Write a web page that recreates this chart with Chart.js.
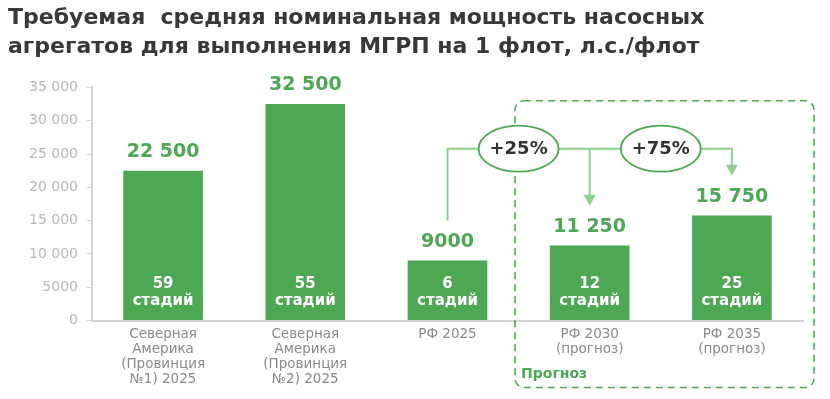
<!DOCTYPE html>
<html lang="ru">
<head>
<meta charset="utf-8">
<script src="https://cdn.jsdelivr.net/npm/chart.js@4.4.1/dist/chart.umd.min.js"></script>
<style>
  html, body { margin: 0; padding: 0; background: #fff; }
  #wrap { width: 830px; height: 399px; }
</style>
</head>
<body>
<div id="wrap"><canvas id="grafico"></canvas></div>
<script>
const categorias = [
  ['Северная', 'Америка', '(Провинция', '№1) 2025'],
  ['Северная', 'Америка', '(Провинция', '№2) 2025'],
  'РФ 2025',
  ['РФ 2030', '(прогноз)'],
  ['РФ 2035', '(прогноз)']
];
const mощности = [22500, 32500, 9000, 11250, 15750];
const стадии = [59, 55, 6, 12, 25];
const приросты = ['+25%', '+75%'];
const шкалаY = [0, 5000, 10000, 15000, 20000, 25000, 30000, 35000];

const titulo = ['Требуемая  средняя номинальная мощность насосных', 'агрегатов для выполнения МГРП на 1 флот, л.с./флот'];
const fonte = "'DejaVu Sans', 'Noto Sans', sans-serif";
const verde = '#4ca852';
const verdeClaro = '#8fd18f';

function formatar(v) {
  return v >= 10000 ? String(v).replace(/\B(?=(\d{3})+(?!\d))/g, ' ') : String(v);
}

// рисуем подписи, стрелки и рамку прогноза
const anotacoes = {
  id: 'anotacoes',
  afterDatasetsDraw(chart) {
    const ctx = chart.ctx;
    const xs = chart.scales.x;
    const ys = chart.scales.y;
    const area = chart.chartArea;
    const barras = chart.getDatasetMeta(0).data;
    const passo = xs.getPixelForValue(1) - xs.getPixelForValue(0);

    ctx.save();
    // значения над столбцами и стадии внутри
    barras.forEach((b, i) => {
      ctx.textAlign = 'center';
      ctx.textBaseline = 'middle';
      ctx.fillStyle = verde;
      ctx.font = 'bold 19px ' + fonte;
      ctx.fillText(formatar(mощности[i]), b.x, b.y - 19);
      ctx.fillStyle = '#fff';
      ctx.font = 'bold 15px ' + fonte;
      ctx.fillText(String(стадии[i]), b.x, area.bottom - 36);
      ctx.fillText('стадий', b.x, area.bottom - 19);
    });

    // рамка "Прогноз"
    const rx0 = xs.getPixelForValue(2) + passo * 0.475;
    const ry0 = ys.getPixelForValue(33000);
    const rx1 = area.right + 11;
    const ry1 = area.bottom + 67;
    ctx.strokeStyle = verde;
    ctx.lineWidth = 1.6;
    ctx.setLineDash([7, 5]);
    ctx.beginPath();
    ctx.roundRect(rx0, ry0, rx1 - rx0, ry1 - ry0, 9);
    ctx.stroke();
    ctx.setLineDash([]);
    ctx.fillStyle = verde;
    ctx.font = 'bold 14px ' + fonte;
    ctx.textAlign = 'left';
    ctx.fillText('Прогноз', rx0 + 6, ry1 - 13);

    // соединительные линии
    const yLinha = ys.getPixelForValue(25800);
    const x2 = barras[2].x, x3 = barras[3].x, x4 = barras[4].x;
    ctx.strokeStyle = verdeClaro;
    ctx.lineWidth = 2;
    ctx.beginPath();
    ctx.moveTo(x2, ys.getPixelForValue(mощности[2] + 6000));
    ctx.lineTo(x2, yLinha);
    ctx.lineTo(x4, yLinha);
    ctx.lineTo(x4, ys.getPixelForValue(mощности[4] + 6000) - 10);
    ctx.moveTo(x3, yLinha);
    ctx.lineTo(x3, ys.getPixelForValue(mощности[3] + 6000) - 10);
    ctx.stroke();
    ctx.fillStyle = verdeClaro;
    [[x3, mощности[3]], [x4, mощности[4]]].forEach(([x, v]) => {
      const tip = ys.getPixelForValue(v + 6000);
      ctx.beginPath();
      ctx.moveTo(x - 6, tip - 11);
      ctx.lineTo(x + 6, tip - 11);
      ctx.lineTo(x, tip);
      ctx.closePath();
      ctx.fill();
    });

    // эллипсы с приростом
    [[(x2 + x3) / 2, приросты[0]], [(x3 + x4) / 2, приросты[1]]].forEach(([cx, txt]) => {
      ctx.beginPath();
      ctx.ellipse(cx, yLinha, 40, 23, 0, 0, Math.PI * 2);
      ctx.fillStyle = '#fff';
      ctx.fill();
      ctx.strokeStyle = verde;
      ctx.lineWidth = 1.8;
      ctx.stroke();
      ctx.fillStyle = '#333';
      ctx.font = 'bold 18px ' + fonte;
      ctx.textAlign = 'center';
      ctx.textBaseline = 'middle';
      ctx.fillText(txt, cx, yLinha + 1);
    });
    ctx.restore();
  }
};

new Chart(document.getElementById('grafico'), {
  type: 'bar',
  data: {
    labels: categorias,
    datasets: [{
      data: mощности,
      backgroundColor: verde,
      barPercentage: 0.56,
      categoryPercentage: 1
    }]
  },
  options: {
    responsive: true,
    maintainAspectRatio: false,
    animation: false,
    layout: { padding: { left: 8, right: 27, top: 0, bottom: 14 } },
    plugins: {
      legend: { display: false },
      tooltip: { enabled: false },
      title: {
        display: true,
        text: titulo,
        align: 'start',
        color: '#383838',
        font: { family: fonte, size: 22, weight: 'bold', lineHeight: 1.35 },
        padding: { top: 3, bottom: 25 }
      }
    },
    scales: {
      x: {
        grid: { display: false },
        border: { color: '#d4d4d4', width: 2 },
        ticks: {
          color: '#8a8a8a',
          font: { family: fonte, size: 13.5, lineHeight: 1.12 },
          maxRotation: 0,
          autoSkip: false,
          padding: -2
        }
      },
      y: {
        min: 0,
        max: 35000,
        afterBuildTicks: (s) => { s.ticks = шкалаY.map(v => ({ value: v })); },
        afterFit: (s) => { s.width = 84; },
        grid: { drawOnChartArea: false, drawTicks: true, tickLength: 5, color: '#d4d4d4' },
        border: { color: '#d4d4d4', width: 2 },
        ticks: {
          color: '#b8b8b8',
          font: { family: fonte, size: 14 },
          padding: 9,
          callback: (v) => formatar(v)
        }
      }
    }
  },
  plugins: [anotacoes]
});
</script>
</body>
</html>
